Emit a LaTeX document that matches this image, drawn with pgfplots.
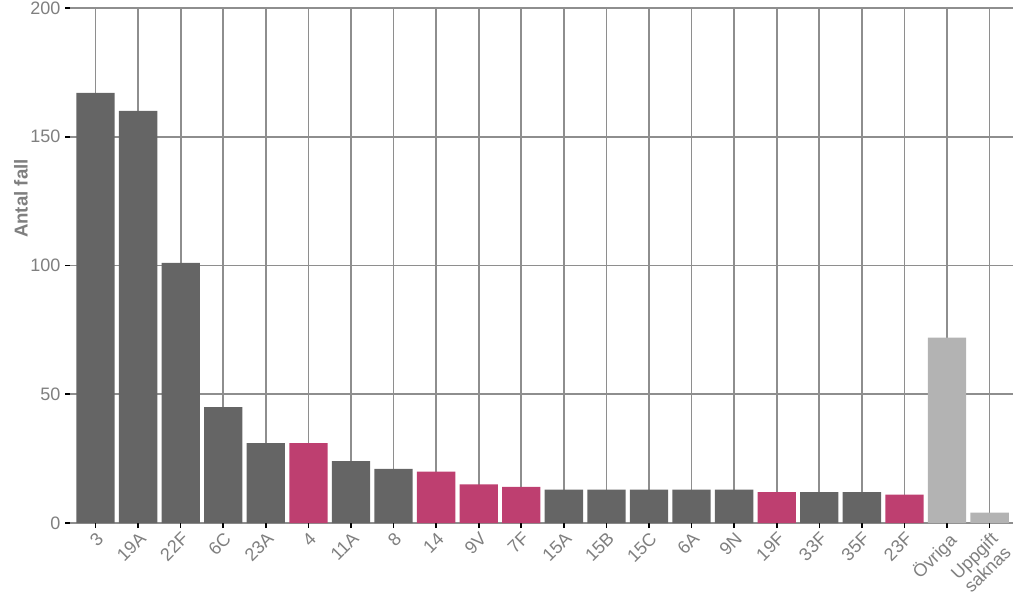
\documentclass[border=0pt]{standalone}
\usepackage{pgfplots}
\pgfplotsset{compat=1.18}
\usepackage{fontspec}
\setmainfont{Liberation Sans}
\definecolor{bardark}{HTML}{656565}
\definecolor{barpink}{HTML}{BE3F70}
\definecolor{barlight}{HTML}{B3B3B3}
\definecolor{gridgray}{HTML}{8E8E8E}
\definecolor{labgray}{HTML}{7F7F7F}
\begin{document}
\begin{tikzpicture}
\path[use as bounding box] (0,0) rectangle (767.25pt,460.5pt);
\begin{axis}[
  at={(52.5pt,68.25pt)}, anchor=south west,
  scale only axis, width=707.25pt, height=386.25pt,
  xmin=-0.6, xmax=21.55, ymin=0, ymax=200,
  ybar, bar width=0.9, bar shift=0pt,
  xtick={0,...,21},
  xticklabels={3,19A,22F,6C,23A,4,11A,8,14,9V,7F,15A,15B,15C,6A,9N,19F,33F,35F,23F,Övriga,{Uppgift\\saknas}},
  ytick={0,50,100,150,200},
  xmajorgrids, ymajorgrids,
  major grid style={gridgray, line width=1.25pt},
  axis line style={draw=none},
  tick align=outside, xtick pos=bottom, ytick pos=left,
  major tick length=3.75pt,
  major tick style={black, line width=1.2pt},
  ticklabel style={labgray, font=\fontsize{13.5}{14}\selectfont},
  /pgf/number format/assume math mode=true,
  xticklabel style={rotate=45, anchor=north east, align=center, inner sep=1.5pt},
  ylabel={Antal fall},
  ylabel style={labgray, font=\bfseries\fontsize{14}{16}\selectfont, at={(axis description cs:-0.0520,0.63)}, anchor=center, rotate=0},
]
\addplot[fill=bardark, draw=none] coordinates {(0,167)(1,160)(2,101)(3,45)(4,31)(6,24)(7,21)(11,13)(12,13)(13,13)(14,13)(15,13)(17,12)(18,12)};
\addplot[fill=barpink, draw=none] coordinates {(5,31)(8,20)(9,15)(10,14)(16,12)(19,11)};
\addplot[fill=barlight, draw=none] coordinates {(20,72)(21,4)};
\end{axis}
\end{tikzpicture}
\end{document}
